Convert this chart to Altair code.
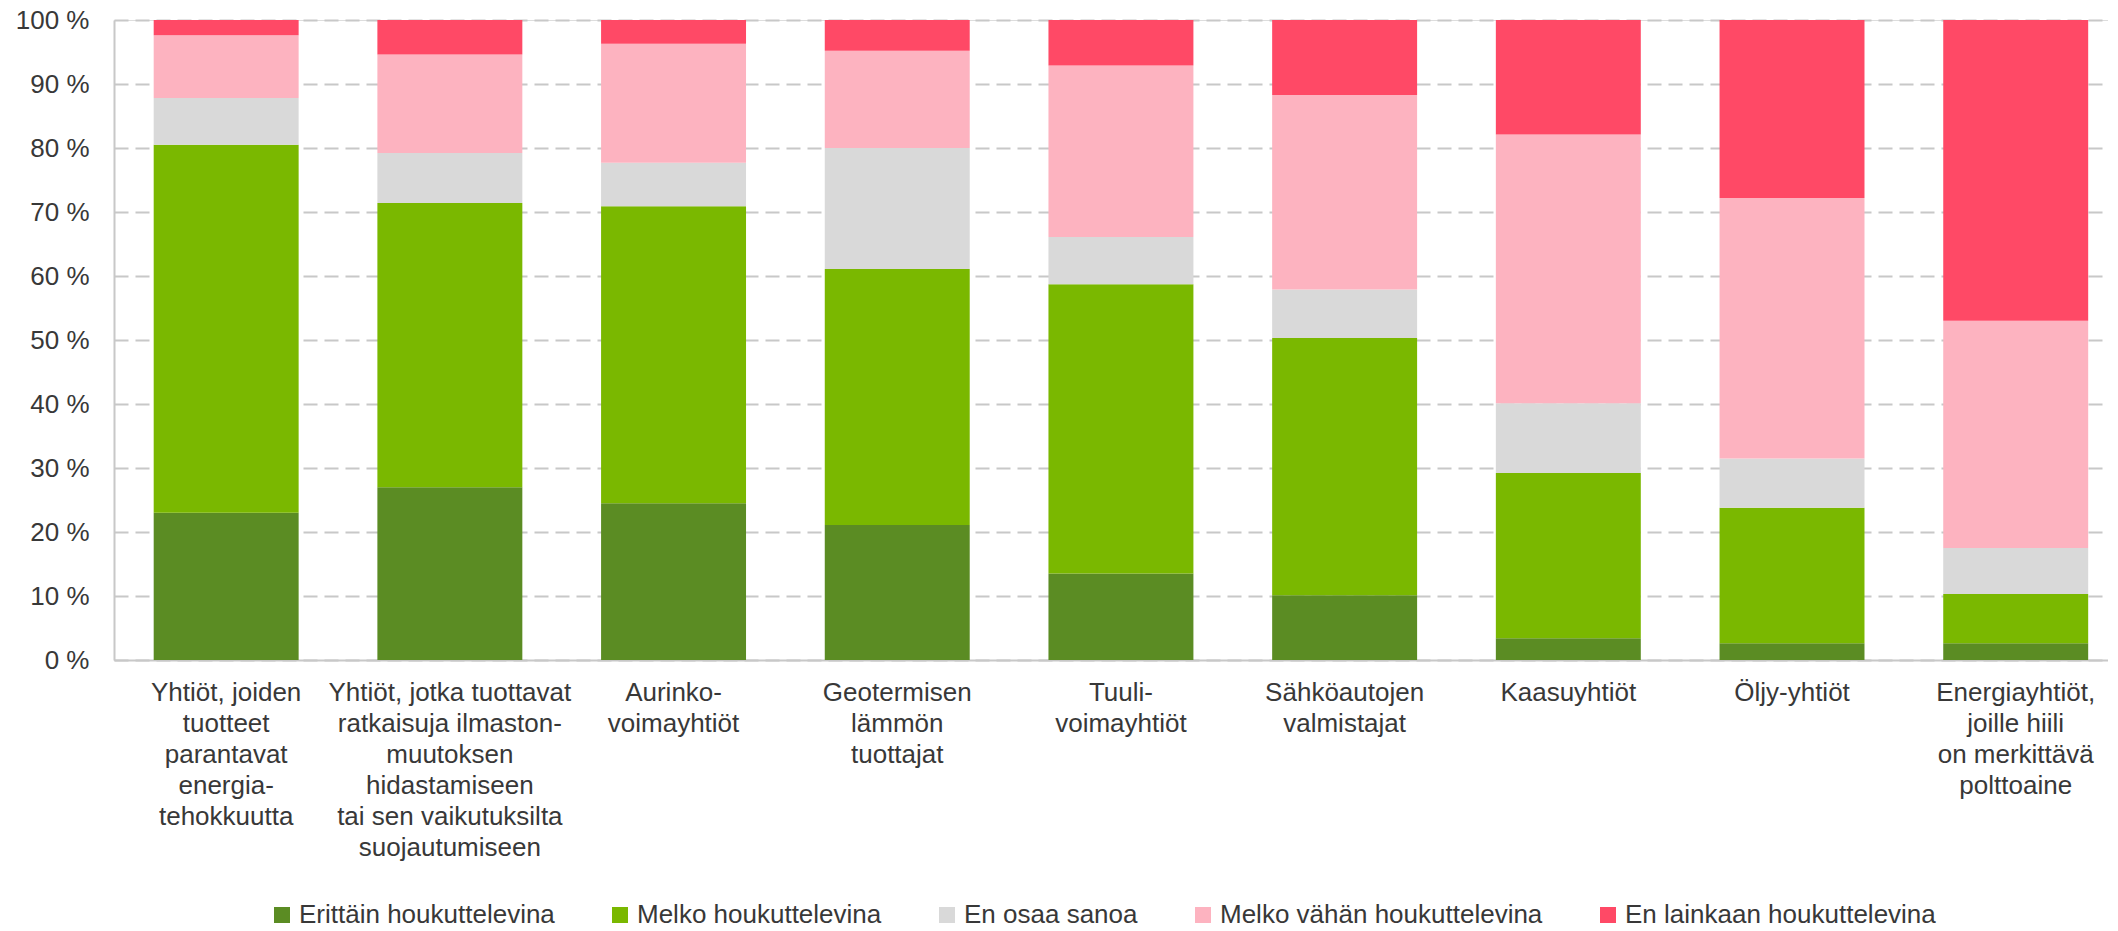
import altair as alt
import pandas as pd

categories = [
    "Yhtiöt, joiden|tuotteet|parantavat|energia-|tehokkuutta",
    "Yhtiöt, jotka tuottavat|ratkaisuja ilmaston-|muutoksen|hidastamiseen|tai sen vaikutuksilta|suojautumiseen",
    "Aurinko-|voimayhtiöt",
    "Geotermisen|lämmön|tuottajat",
    "Tuuli-|voimayhtiöt",
    "Sähköautojen|valmistajat",
    "Kaasuyhtiöt",
    "Öljy-yhtiöt",
    "Energiayhtiöt,|joille hiili|on merkittävä|polttoaine",
]

series_names = [
    "Erittäin houkuttelevina",
    "Melko houkuttelevina",
    "En osaa sanoa",
    "Melko vähän houkuttelevina",
    "En lainkaan houkuttelevina",
]

erittain = [23.0, 27.0, 24.5, 21.1, 13.5, 10.1, 3.4, 2.6, 2.6]
melko = [57.5, 44.4, 46.4, 40.0, 45.2, 40.2, 25.8, 21.2, 7.7]
en_osaa = [7.3, 7.8, 6.8, 18.9, 7.4, 7.6, 10.9, 7.7, 7.2]
melko_vahan = [9.8, 15.4, 18.6, 15.2, 26.8, 30.4, 42.0, 40.7, 35.5]
en_lainkaan = [2.4, 5.4, 3.7, 4.8, 7.1, 11.7, 17.9, 27.8, 47.0]

colors = ["#5B8C23", "#7AB800", "#D9D9D9", "#FDB3C0", "#FF4966"]
y_ticks = [0, 10, 20, 30, 40, 50, 60, 70, 80, 90, 100]

series_values = [erittain, melko, en_osaa, melko_vahan, en_lainkaan]
rows = []
for si, (name, vals) in enumerate(zip(series_names, series_values)):
    for ci, cat in enumerate(categories):
        rows.append({"category": cat, "series": name, "order": si, "value": vals[ci]})
df = pd.DataFrame(rows)

FONT = "Liberation Sans"
TXT = "#383838"
GRID = "#C8C8C8"

chart = alt.Chart(df).mark_bar().encode(
    x=alt.X(
        "category:N",
        sort=categories,
        title=None,
        scale=alt.Scale(paddingInner=0.352, paddingOuter=0.133, align=0.667),
        axis=alt.Axis(
            labelExpr="split(datum.value, '|')",
            labelAngle=0,
            labelFont=FONT,
            labelFontSize=26,
            labelColor=TXT,
            labelLineHeight=31,
            labelBaseline="top",
            labelPadding=19,
            labelLimit=0,
            ticks=False,
            domainColor=GRID,
            domainWidth=2,
            grid=False,
        ),
    ),
    y=alt.Y(
        "value:Q",
        stack="zero",
        title=None,
        scale=alt.Scale(domain=[0, 100], nice=False),
        axis=alt.Axis(
            values=y_ticks,
            labelExpr="datum.value + ' %'",
            labelFont=FONT,
            labelFontSize=26,
            labelColor=TXT,
            labelPadding=25,
            ticks=False,
            domainColor=GRID,
            domainWidth=2,
            grid=True,
            gridColor=GRID,
            gridWidth=2,
            gridDash=[14, 7],
        ),
    ),
    color=alt.Color(
        "series:N",
        sort=series_names,
        scale=alt.Scale(domain=series_names, range=colors),
        legend=alt.Legend(
            title=None,
            orient="none",
            direction="horizontal",
            legendX=155,
            legendY=882,
            symbolType="square",
            symbolSize=256,
            symbolStrokeWidth=0,
            labelFont=FONT,
            labelFontSize=26,
            labelColor=TXT,
            labelOffset=4,
            labelLimit=0,
            columnPadding=52,
        ),
    ),
    order=alt.Order("order:Q", sort="ascending"),
).properties(
    width=1994,
    height=640,
    autosize=alt.AutoSizeParams(type="none"),
    padding={"left": 106, "top": 12, "right": 0, "bottom": 263},
).configure_view(stroke=None).configure(background="white")

chart.save("out.html", embed_options={"renderer": "svg", "actions": False})
